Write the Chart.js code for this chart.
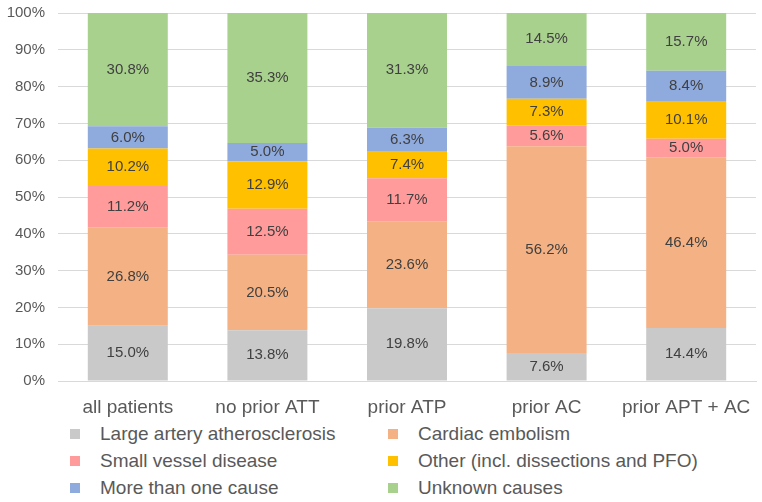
<!DOCTYPE html>
<html>
<head>
<meta charset="utf-8">
<script src="https://cdn.jsdelivr.net/npm/chart.js@4"></script>
<style>
  body { margin: 0; background: #fff; font-family: "Liberation Sans", Arial, sans-serif; }
  #wrap { position: relative; width: 762px; height: 420px; }
  #legend { display: grid; grid-template-columns: 318px 330px; margin-left: 70px; margin-top: 0; }
  #legend div { display: flex; align-items: center; font-size: 19px; color: #595959; height: 27px; }
  #legend span { display: inline-block; width: 10px; height: 10px; margin-right: 20px; }
</style>
</head>
<body>
<div id="wrap"><canvas id="c"></canvas></div>
<div id="legend"></div>
<script>
const categories = ['all patients', 'no prior ATT', 'prior ATP', 'prior AC', 'prior APT + AC'];
const seriesNames = ['Large artery atherosclerosis', 'Cardiac embolism', 'Small vessel disease',
  'Other (incl. dissections and PFO)', 'More than one cause', 'Unknown causes'];
const largeArtery = [15.0, 13.8, 19.8, 7.6, 14.4];
const cardiac = [26.8, 20.5, 23.6, 56.2, 46.4];
const smallVessel = [11.2, 12.5, 11.7, 5.6, 5.0];
const other = [10.2, 12.9, 7.4, 7.3, 10.1];
const moreThanOne = [6.0, 5.0, 6.3, 8.9, 8.4];
const unknown = [30.8, 35.3, 31.3, 14.5, 15.7];
const yTicks = [0, 10, 20, 30, 40, 50, 60, 70, 80, 90, 100];
const colors = ['#C9C9C9', '#F4B183', '#FF9B9B', '#FFC000', '#8FAADC', '#A9D18E'];

const seriesValues = [largeArtery, cardiac, smallVessel, other, moreThanOne, unknown];
const fontFamily = '"Liberation Sans", Arial, sans-serif';

// draw value labels in the middle of each segment
const segmentLabels = {
  id: 'segmentLabels',
  afterDatasetsDraw(chart) {
    const ctx = chart.ctx;
    ctx.save();
    ctx.font = '15px ' + fontFamily;
    ctx.fillStyle = '#404040';
    ctx.textAlign = 'center';
    ctx.textBaseline = 'middle';
    chart.data.datasets.forEach((ds, i) => {
      chart.getDatasetMeta(i).data.forEach((bar, j) => {
        const mid = (bar.y + bar.base) / 2;
        ctx.fillText(ds.data[j].toFixed(1) + '%', bar.x, mid);
      });
    });
    ctx.restore();
  }
};

new Chart(document.getElementById('c'), {
  type: 'bar',
  data: {
    labels: categories,
    datasets: seriesNames.map((name, i) => ({
      label: name,
      data: seriesValues[i],
      backgroundColor: colors[i],
      borderWidth: 0,
      categoryPercentage: 1,
      barPercentage: 0.573
    }))
  },
  options: {
    responsive: true,
    maintainAspectRatio: false,
    animation: false,
    layout: { padding: { top: 13, right: 6, left: 0, bottom: 0 } },
    plugins: { legend: { display: false }, tooltip: { enabled: false } },
    scales: {
      x: {
        stacked: true,
        grid: { display: false, drawTicks: false },
        border: { color: '#D9D9D9' },
        ticks: { color: '#595959', font: { size: 19, family: fontFamily }, padding: 15 },
        afterFit: axis => { axis.height = 39; axis.paddingLeft = 0; axis.paddingRight = 0; }
      },
      y: {
        stacked: true,
        min: 0,
        max: 100,
        afterBuildTicks: axis => { axis.ticks = yTicks.map(v => ({ value: v })); },
        grid: { color: '#D9D9D9', drawTicks: false },
        border: { display: false },
        ticks: {
          color: '#595959',
          font: { size: 15, family: fontFamily },
          padding: 13,
          callback: v => v + '%'
        },
        afterFit: axis => { axis.width = 58; axis.paddingTop = 0; axis.paddingBottom = 0; }
      }
    }
  },
  plugins: [segmentLabels]
});

const legend = document.getElementById('legend');
[0, 1, 2, 3, 4, 5].forEach(i => {
  const item = document.createElement('div');
  item.innerHTML = '<span style="background:' + colors[i] + '"></span>' + seriesNames[i];
  legend.appendChild(item);
});
</script>
</body>
</html>
